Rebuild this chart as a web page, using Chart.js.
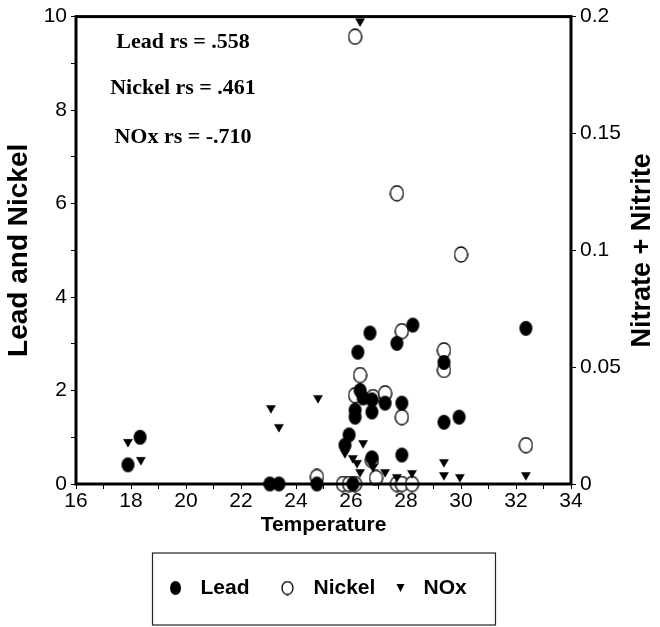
<!DOCTYPE html>
<html><head><meta charset="utf-8">
<script src="https://cdn.jsdelivr.net/npm/chart.js@4.4.0/dist/chart.umd.min.js"></script>
<style>html,body{margin:0;padding:0;background:#fff;}</style>
</head><body>
<canvas id="c" width="660" height="627"></canvas>
<script>
// ---- data ----
const leadTemp = [17.89,18.33,23.05,23.38,24.76,25.78,25.93,26.15,26.15,26.25,26.33,26.44,26.69,26.76,26.76,27.24,26.76,27.67,28.25,27.85,27.85,29.38,29.38,29.93,32.36,26.07];
const leadVal  = [0.41,1.0,0,0,0,0.83,1.05,1.43,1.58,2.82,2.0,1.84,3.23,1.54,1.8,1.73,0.56,3.01,3.4,1.73,0.62,2.6,1.32,1.43,3.33,0];
const nickelTemp = [26.15,27.67,30.0,29.38,29.38,32.36,27.85,26.33,26.15,26.8,27.24,27.85,26.76,24.76,25.71,25.93,26.15,26.91,27.67,27.85,28.22];
const nickelVal  = [9.57,6.22,4.91,2.86,2.44,0.83,3.27,2.33,1.9,1.86,1.94,1.43,0.51,0.15,0,0,0,0.13,0,0,0];
const noxTemp = [17.89,18.36,23.09,23.38,24.8,25.78,26.07,26.22,26.33,26.44,26.33,26.8,27.24,27.67,28.22,29.38,29.38,29.96,32.36];
const noxVal  = [0.018,0.0103,0.0325,0.0244,0.0368,0.0132,0.0111,0.009,0.0051,0.0175,0.198,0.0073,0.0051,0.003,0.0047,0.0094,0.0038,0.003,0.0038];
const seriesNames = ['Lead','Nickel','NOx'];
const notes = ['Lead rs = .558','Nickel rs = .461','NOx rs = -.710'];
const xTitle = 'Temperature', yTitle = 'Lead and Nickel', y2Title = 'Nitrate + Nitrite';

const SANS = '"Liberation Sans", Arial, sans-serif';
const SERIF = '"Liberation Serif", "Times New Roman", serif';

function ellipseImg(w, h, filled) {
  const c = document.createElement('canvas'); c.width = w; c.height = h;
  const g = c.getContext('2d');
  g.beginPath(); g.ellipse(w/2, h/2, w/2 - 1, h/2 - 1, 0, 0, Math.PI * 2);
  if (filled) { g.fillStyle = '#000'; g.fill(); }
  else { g.fillStyle = '#fff'; g.fill(); g.lineWidth = 1.3; g.strokeStyle = '#000'; g.stroke(); }
  return c;
}
const leadImg = ellipseImg(15, 17, true);
const nickelImg = ellipseImg(15, 17, false);
const leadLegImg = ellipseImg(13, 16, true);
const nickelLegImg = ellipseImg(13, 15, false);

const pts = (xs, ys) => xs.map((x, i) => ({x: x, y: ys[i]}));

const framePlugin = {
  id: 'frame',
  afterDatasetsDraw(chart) {
    const {ctx, chartArea: a} = chart;
    ctx.save(); ctx.lineWidth = 3; ctx.strokeStyle = '#000';
    ctx.strokeRect(a.left, a.top, a.right - a.left, a.bottom - a.top);
    ctx.restore();
  },
  afterDraw(chart) {
    const {ctx, chartArea: a} = chart;
    ctx.save();
    ctx.fillStyle = '#000';
    // right axis title, reading bottom to top
    ctx.save();
    ctx.translate(chart.width - 17, (a.top + a.bottom) / 2);
    ctx.rotate(-Math.PI / 2);
    ctx.font = 'bold 27px ' + SANS; ctx.textAlign = 'center'; ctx.textBaseline = 'middle';
    ctx.fillText(y2Title, 0, 0);
    ctx.restore();
    // annotations
    ctx.font = 'bold 22px ' + SERIF;
    ctx.textAlign = 'center'; ctx.textBaseline = 'middle';
    const offs = [26, 72, 121];
    notes.forEach((t, i) => ctx.fillText(t, a.left + 107, a.top + offs[i]));
    // legend box
    const cx = (a.left + a.right) / 2;
    const top = chart.height - 74, h = 72;
    ctx.lineWidth = 1.2; ctx.strokeStyle = '#222';
    ctx.strokeRect(cx - 171, top, 343, h);
    const ly = top + 35;
    ctx.font = 'bold 21px ' + SANS; ctx.textAlign = 'left';
    ctx.drawImage(leadLegImg, cx - 148 - 6.5, ly - 8);
    ctx.fillText(seriesNames[0], cx - 123, ly);
    ctx.drawImage(nickelLegImg, cx - 36 - 6.5, ly - 7.5);
    ctx.fillText(seriesNames[1], cx - 10, ly);
    ctx.beginPath(); ctx.moveTo(cx + 73, ly - 4); ctx.lineTo(cx + 81, ly - 4); ctx.lineTo(cx + 77, ly + 4); ctx.closePath(); ctx.fill();
    ctx.fillText(seriesNames[2], cx + 100, ly);
    ctx.restore();
  }
};

const tickFont = {family: SANS, size: 21};
const gridOpts = {display: true, drawOnChartArea: false, drawTicks: true, tickLength: 5, color: '#000', tickColor: '#000'};

new Chart(document.getElementById('c'), {
  type: 'scatter',
  data: {
    datasets: [
      {label: seriesNames[0], data: pts(leadTemp, leadVal), yAxisID: 'y', pointStyle: leadImg, pointRadius: 8, backgroundColor: '#000', borderColor: '#000', clip: false, order: 1},
      {label: seriesNames[1], data: pts(nickelTemp, nickelVal), yAxisID: 'y', pointStyle: nickelImg, pointRadius: 8, backgroundColor: '#fff', borderColor: '#000', clip: false, order: 2},
      {label: seriesNames[2], data: pts(noxTemp, noxVal), yAxisID: 'y2', pointStyle: 'triangle', rotation: 180, pointRadius: 5.2, backgroundColor: '#000', borderColor: '#000', borderWidth: 0.5, clip: false, order: 0}
    ]
  },
  options: {
    responsive: false, animation: false, devicePixelRatio: 1,
    layout: {padding: {top: 16, bottom: 80, left: 0, right: 0}},
    plugins: {legend: {display: false}, tooltip: {enabled: false}},
    scales: {
      x: {
        type: 'linear', position: 'bottom', min: 16, max: 34,
        ticks: {stepSize: 1, autoSkip: false, maxRotation: 0, padding: 0, color: '#000', font: tickFont,
                callback: v => (v % 2 === 0 ? String(v) : '')},
        grid: gridOpts, border: {display: false},
        title: {display: true, text: xTitle, color: '#000', font: {family: SANS, size: 21, weight: 'bold'}, padding: {top: 0, bottom: 9}},
        afterFit: s => { s.height = 63; }
      },
      y: {
        type: 'linear', position: 'left', min: 0, max: 10,
        ticks: {stepSize: 1, autoSkip: false, padding: 4, color: '#000', font: tickFont,
                callback: v => (v % 2 === 0 ? String(v) : '')},
        grid: gridOpts, border: {display: false},
        title: {display: true, text: yTitle, color: '#000', font: {family: SANS, size: 28, weight: 'bold'}, padding: {top: 2, bottom: 0}},
        afterFit: s => { s.width = 76; }
      },
      y2: {
        type: 'linear', position: 'right', min: 0, max: 0.2,
        ticks: {stepSize: 0.05, autoSkip: false, padding: 4, color: '#000', font: tickFont,
                callback: v => String(+v.toFixed(2))},
        grid: gridOpts, border: {display: false},
        title: {display: false},
        afterFit: s => { s.width = 89; }
      }
    }
  },
  plugins: [framePlugin]
});
</script>
</body></html>
